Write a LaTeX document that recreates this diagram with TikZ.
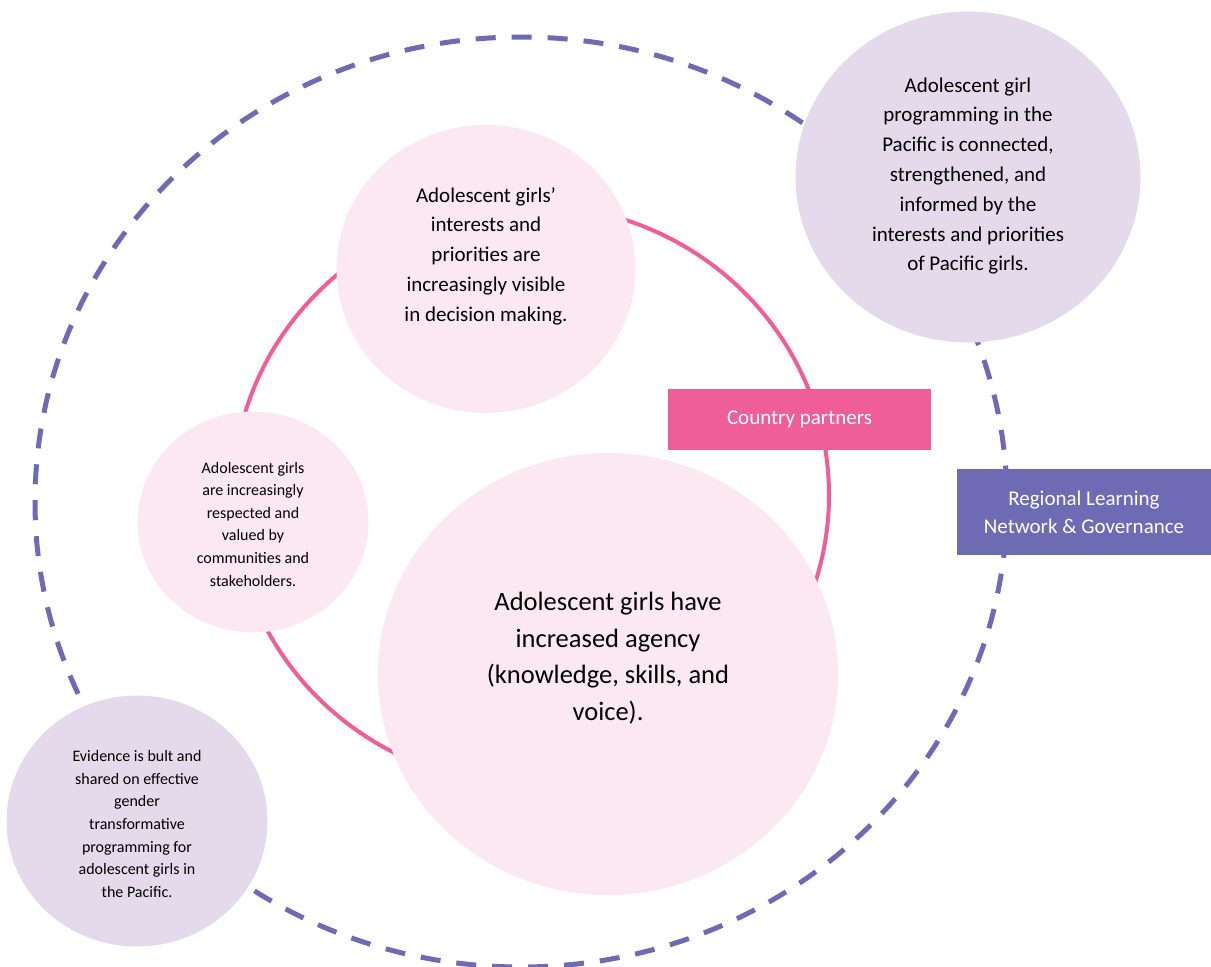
\documentclass[tikz,border=0pt]{standalone}
\usepackage{fontspec}
\setmainfont{Carlito}
\usetikzlibrary{shapes.geometric}
\definecolor{lilac}{HTML}{E5DAEC}
\definecolor{blush}{HTML}{FCE8F1}
\definecolor{rose}{HTML}{F05E99}
\definecolor{iris}{HTML}{6E6AB4}
\begin{document}
\begin{tikzpicture}[x=1pt,y=-1pt,
    outcome/.style={ellipse,fill=blush,inner sep=0pt},
    goal/.style={ellipse,fill=lilac,inner sep=0pt},
    small/.style={align=center,font=\fontsize{16}{22.6}\selectfont},
    medium/.style={align=center,font=\fontsize{21}{29.8}\selectfont},
    large/.style={align=center,font=\fontsize{26.5}{36.5}\selectfont},
    band/.style={text=white,align=center,inner sep=0pt,font=\fontsize{21}{28}\selectfont}]
  \useasboundingbox (0,0) rectangle (1211,967);
  % rings
  \draw[iris,line width=5pt,dash pattern=on 20pt off 16pt] (521,502) circle[x radius=486,y radius=465];
  \draw[rose,line width=4pt] (531,495) circle[x radius=298,y radius=290];
  % outcome circles
  \node[goal,minimum width=345pt,minimum height=331pt] (pacific) at (968,177) {};
  \node[outcome,minimum width=299pt,minimum height=288pt] (visible) at (486,269) {};
  \node[outcome,minimum width=231pt,minimum height=221pt] (valued) at (253,522) {};
  \node[goal,minimum width=261pt,minimum height=251pt] (evidence) at (137,821) {};
  \node[outcome,minimum width=460pt,minimum height=442pt] (agency) at (608,674) {};
  % texts
  \node[medium] (pacifictext) at (968,176) {Adolescent girl\\programming in the\\Pacific is connected,\\strengthened, and\\informed by the\\interests and priorities\\of Pacific girls.};
  \node[medium] (visibletext) at (486,256) {Adolescent girls’\\interests and\\priorities are\\increasingly visible\\in decision making.};
  \node[small] (valuedtext) at (253,524) {Adolescent girls\\are increasingly\\respected and\\valued by\\communities and\\stakeholders.};
  \node[small] (evidencetext) at (137,824) {Evidence is bult and\\shared on effective\\gender\\transformative\\programming for\\adolescent girls in\\the Pacific.};
  \node[large] (agencytext) at (608,658) {Adolescent girls have\\increased agency\\(knowledge, skills, and\\voice).};
  % partner boxes
  \node[band,fill=rose,minimum width=263pt,minimum height=61pt] (country) at (799.5,419.5) {Country partners};
  \node[band,fill=iris,minimum width=254pt,minimum height=86pt] (regional) at (1084,512) {Regional Learning\\Network \& Governance};
\end{tikzpicture}
\end{document}
